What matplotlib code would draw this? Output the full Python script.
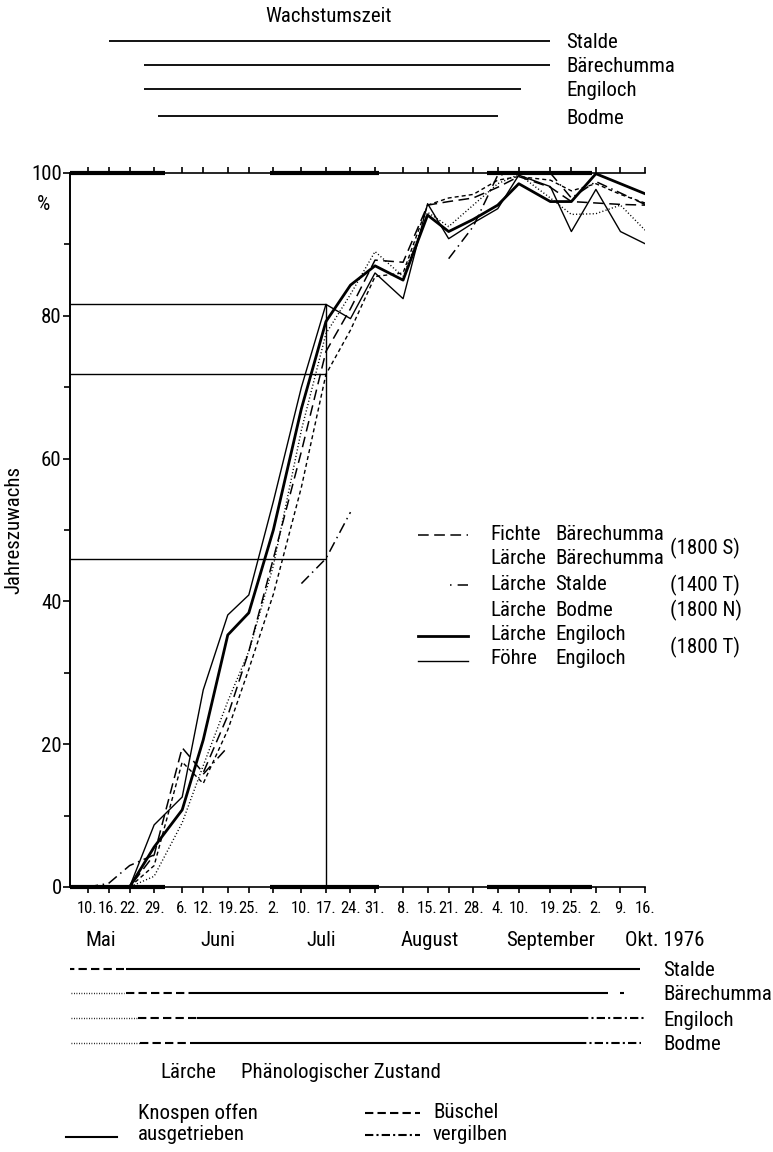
import numpy as np
import matplotlib
matplotlib.use("Agg")
import matplotlib.pyplot as plt
from matplotlib import font_manager

W, H = 773, 1152

# Messtermine 1976, Tage seit dem 1. Mai
mess_tage = [9, 15, 21, 28, 36, 42, 49, 55, 62, 70, 77, 84,
             91, 99, 106, 112, 119, 126, 132, 141, 147, 154, 161, 168]
tick_labels = ["10.", "16.", "22.", "29.", "6.", "12.", "19.", "25.", "2.",
               "10.", "17.", "24.", "31.", "8.", "15.", "21.", "28.", "4.",
               "10.", "19.", "25.", "2.", "9.", "16."]

# Jahreszuwachs in %
fichte_baerechumma = [0, 0, 0, 4.5, 19.5, 16, 24, 33, 46, 61, 75, 81,
                      87.8, 87.5, 95.5, 96, 96.5, 98, 99.5, 98, 96, 95.8, 95.6, 95.5]
laerche_baerechumma = [0, 0, 0, 1.5, 9, 17, 26, 33, 45, 64, 77.5, 83,
                       89, 85.5, 94.5, 92.5, 95.5, 98.5, 99.8, 96.5, 94.2, 94.3, 95.5, 92]
laerche_stalde = [0, 0.5, 3, 4.5, np.nan, 15.8, 19.6, np.nan, np.nan, 42.5, 46, 52.5,
                  np.nan, np.nan, np.nan, 88, 92.5, 99.7, 100, 100, 96.5, 98.8, 97.2, 95.6]
laerche_bodme = [0, 0, 0, 3, 17.5, 14.5, 22, 30.5, 41, 56, 71.8, 78,
                 85.5, 86, 95.5, 96.5, 97, 99, 99.5, 99, 97.5, 98.5, 97, 95.8]
laerche_engiloch = [0, 0, 0, 5.6, 10.8, 20.6, 35.3, 38.4, 50, 67, 79.2, 84.3,
                    87, 85, 94.1, 91.8, 93.5, 95.5, 98.5, 96, 96, 99.9, 98.5, 97.1]
foehre_engiloch = [0, 0, 0, 8.7, 12.6, 27.6, 38.1, 40.9, 54, 70, 81.6, 79.6,
                   86, 82.4, 95.7, 90.8, 93, 95, 99.7, 98.1, 91.8, 97.7, 91.8, 90.1]

# Monate (Mai, Juli, September) fett auf dem Rahmen
monat_dick = [(4, 31), (61, 92), (123, 153)]
monate = ["Mai", "Juni", "Juli", "August", "September"]
monat_pos = [12.8, 46.2, 75.6, 106.7, 141]

# Wachstumszeit je Standort (Tage seit 1. Mai)
standorte = ["Stalde", "Bärechumma", "Engiloch", "Bodme"]
wachstum_start = [15, 25, 25, 29]
wachstum_ende = [141, 141, 132.5, 126]

# Phänologischer Zustand der Lärche: (von, bis, Zustand)
phaeno = {
    "Stalde": [(3, 19.4, "bueschel"), (20, 166.6, "aus")],
    "Bärechumma": [(3, 19.4, "knospen"), (20, 39, "bueschel"), (39, 157.5, "aus"),
                   (161, 162, "vergilb")],
    "Engiloch": [(3, 23.4, "knospen"), (23.4, 40.2, "bueschel"), (40.2, 149.5, "aus"),
                 (149.5, 168, "vergilb")],
    "Bodme": [(3, 24, "knospen"), (24, 40.2, "bueschel"), (40.2, 149, "aus"),
              (149, 167, "vergilb")],
}

names = {f.name for f in font_manager.fontManager.ttflist}
narrow = next((n for n in ["Liberation Sans Narrow", "Roboto Condensed"] if n in names), None)
if narrow:
    plt.rcParams["font.family"] = [narrow, "DejaVu Sans"]
else:
    plt.rcParams["font.family"] = ["DejaVu Sans"]
    plt.rcParams["font.stretch"] = "condensed"

FS = 15

LS_FICHTE = (0, (7, 3.6))
LS_PUNKT = (0, (0.8, 1.6))
LS_STRICHPUNKT = (0, (7, 3, 1, 3))
LS_KURZ = (0, (2.9, 2.2))

zustand_stil = {
    "knospen": dict(ls=(0, (0.6, 1.2)), lw=1.0),
    "bueschel": dict(ls=(0, (4, 2)), lw=1.5),
    "aus": dict(ls="-", lw=1.5),
    "vergilb": dict(ls=(0, (4, 1.5, 1, 1.5)), lw=1.5),
}


def frac(x0, y0, x1, y1):
    return [x0 / W, 1 - y1 / H, (x1 - x0) / W, (y1 - y0) / H]


def put(x, y, s, **kw):
    kw.setdefault("fontsize", FS)
    kw.setdefault("va", "center")
    fig.text(x / W, 1 - y / H, s, **kw)


fig = plt.figure(figsize=(W / 100, H / 100), dpi=100)

ax = fig.add_axes(frac(70, 173, 645, 887))
ax_top = fig.add_axes(frac(70, 0, 645, 173), sharex=ax)
ax_bot = fig.add_axes(frac(70, 887, 645, H), sharex=ax)
lay = fig.add_axes([0, 0, 1, 1])
for a in (ax_top, ax_bot, lay):
    a.set_axis_off()
ax_top.set_ylim(173, 0)
ax_bot.set_ylim(H, 887)
lay.set_xlim(0, W)
lay.set_ylim(H, 0)

# Kurven
ax.plot(mess_tage, fichte_baerechumma, color="k", lw=1.1, ls=LS_FICHTE)
ax.plot(mess_tage, laerche_baerechumma, color="k", lw=1.0, ls=LS_PUNKT)
ax.plot(mess_tage, laerche_stalde, color="k", lw=1.1, ls=LS_STRICHPUNKT)
ax.plot(mess_tage, laerche_bodme, color="k", lw=1.0, ls=LS_KURZ)
ax.plot(mess_tage, laerche_engiloch, color="k", lw=2.0)
ax.plot(mess_tage, foehre_engiloch, color="k", lw=1.0)

# Ablesehilfe am 17. Juli
i17 = mess_tage.index(77)
stufen = [foehre_engiloch[i17], laerche_bodme[i17], laerche_stalde[i17]]
ax.hlines(stufen, 4, 77, color="k", lw=1.0)
ax.vlines(77, 0, max(stufen), color="k", lw=1.0)

ax.set_xlim(4, 168)
ax.set_ylim(0, 100)
ax.set_xticks(mess_tage, tick_labels)
ax.set_yticks([0, 20, 40, 60, 80, 100])
ax.set_yticks([10, 30, 50, 70, 90], minor=True)
ax.tick_params(axis="x", top=True, bottom=True, direction="out", length=4,
               width=1.2, pad=6, labelsize=12)
ax.tick_params(axis="y", which="major", direction="out", length=5, width=1.2,
               pad=1, labelsize=FS)
ax.tick_params(axis="y", which="minor", direction="out", length=4, width=1.2)
ax.spines["right"].set_visible(False)
ax.spines["left"].set_linewidth(1.4)
ax.spines["top"].set_linewidth(1.2)
ax.spines["bottom"].set_linewidth(1.2)
for a, b in monat_dick:
    for yy in (0, 100):
        ax.plot([a, b], [yy, yy], color="k", lw=3.0, solid_capstyle="butt",
                clip_on=False, zorder=3)

put(44, 204, "%", ha="center")
put(14, 530, "Jahreszuwachs", ha="center", rotation=90)

# Legende im Diagramm
lay.plot([418, 468], [535, 535], color="k", lw=1.1, ls=LS_FICHTE)
lay.plot([450, 468], [585, 585], color="k", lw=1.1, ls=(0, (1, 4, 8, 3)))
lay.plot([418, 468], [636, 636], color="k", lw=2.0)
lay.plot([418, 468], [661, 661], color="k", lw=1.0)
legende = [("Fichte", "Bärechumma", 535), ("Lärche", "Bärechumma", 558),
           ("Lärche", "Stalde", 585), ("Lärche", "Bodme", 610),
           ("Lärche", "Engiloch", 635), ("Föhre", "Engiloch", 659)]
for art, ort, y in legende:
    put(490, y, art)
    put(555, y, ort)
for s, y in [("(1800 S)", 548), ("(1400 T)", 585), ("(1800 N)", 610), ("(1800 T)", 647)]:
    put(670, y, s)

# Wachstumszeit oben
put(329, 16, "Wachstumszeit", ha="center")
for ort, a, b, y in zip(standorte, wachstum_start, wachstum_ende, [41, 65, 89, 116]):
    ax_top.plot([a, b], [y, y], color="k", lw=1.3, solid_capstyle="butt")
    put(566, y + 2, ort)

# Monate unter der Achse
for m, x in zip(monate, monat_pos):
    ax_bot.text(x, 940, m, ha="center", va="center", fontsize=FS)
put(625, 940, "Okt. 1976")

# Phänologischer Zustand
for ort, y in zip(standorte, [969, 993, 1018, 1043]):
    for a, b, z in phaeno[ort]:
        ax_bot.plot([a, b], [y, y], color="k", solid_capstyle="butt",
                    **zustand_stil[z])
    put(663, y + 2, ort)

put(160, 1072, "Lärche")
put(241, 1072, "Phänologischer Zustand")
put(138, 1113, "Knospen offen")
put(138, 1135, "ausgetrieben")
lay.plot([66, 117], [1137, 1137], color="k", **zustand_stil["aus"])
put(433, 1113, "Büschel")
lay.plot([365, 420], [1113, 1113], color="k", **zustand_stil["bueschel"])
put(433, 1135, "vergilben")
lay.plot([365, 420], [1135, 1135], color="k", **zustand_stil["vergilb"])

fig.savefig("out.png", dpi=100, facecolor="white")
